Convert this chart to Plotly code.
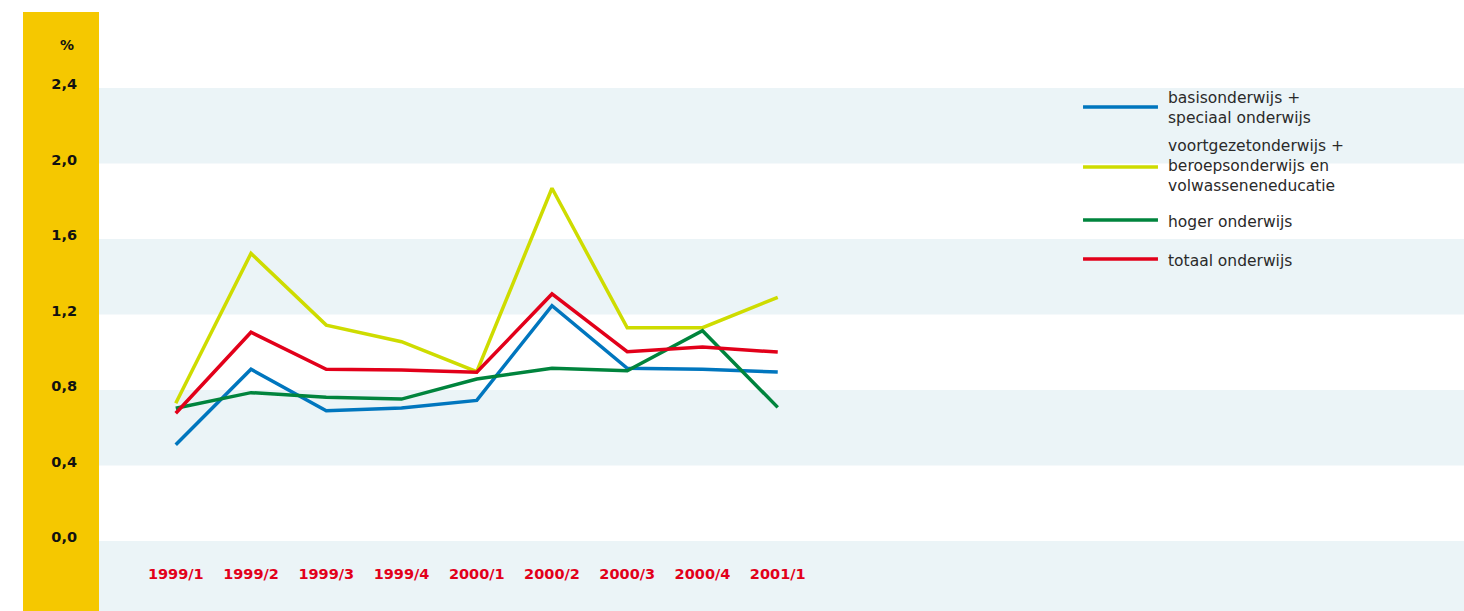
import plotly.graph_objects as go

periods = ["1999/1", "1999/2", "1999/3", "1999/4", "2000/1", "2000/2", "2000/3", "2000/4", "2001/1"]
basis = [0.51, 0.91, 0.69, 0.705, 0.745, 1.247, 0.915, 0.91, 0.895]
voortgezet = [0.73, 1.524, 1.144, 1.056, 0.897, 1.869, 1.13, 1.13, 1.291]
hoger = [0.703, 0.786, 0.761, 0.752, 0.858, 0.915, 0.902, 1.114, 0.708]
totaal = [0.677, 1.106, 0.91, 0.906, 0.894, 1.309, 1.003, 1.028, 1.001]

series_names = ["basisonderwijs +<br>speciaal onderwijs",
                "voortgezetonderwijs +<br>beroepsonderwijs en<br>volwasseneneducatie",
                "hoger onderwijs",
                "totaal onderwijs"]
series_values = [basis, voortgezet, hoger, totaal]
series_colors = ["#0076BE", "#CEDC00", "#00843D", "#E2001A"]

y_ticks = [0.0, 0.4, 0.8, 1.2, 1.6, 2.0, 2.4]
y_ticktext = ["0,0", "0,4", "0,8", "1,2", "1,6", "2,0", "2,4"]
band_ranges = [(-0.4, 0.0), (0.4, 0.8), (1.2, 1.6), (2.0, 2.4)]

fig = go.Figure()
for name, vals, col in zip(series_names, series_values, series_colors):
    fig.add_trace(go.Scatter(x=periods, y=vals, mode="lines", name=name,
                             line=dict(color=col, width=3.5), showlegend=False))

shapes = []
# yellow side band
shapes.append(dict(type="rect", xref="paper", yref="paper", x0=-76/1365, x1=0, y0=0, y1=1,
                   fillcolor="#F5C800", line=dict(width=0), layer="below"))
for b0, b1 in band_ranges:
    shapes.append(dict(type="rect", xref="paper", yref="y", x0=0, x1=1, y0=b0, y1=b1,
                       fillcolor="#EBF4F7", line=dict(width=0), layer="below"))

# manual legend
leg_line_y = [0.8414, 0.7412, 0.6528, 0.5876]
leg_text_y = [0.8405, 0.7437, 0.6493, 0.5843]
annotations = []
for name, col, ly, ty in zip(series_names, series_colors, leg_line_y, leg_text_y):
    shapes.append(dict(type="line", xref="paper", yref="paper", x0=0.7209, x1=0.7758, y0=ly, y1=ly,
                       line=dict(color=col, width=3.5)))
    annotations.append(dict(xref="paper", yref="paper", x=0.7817, y=ty, text=name, showarrow=False,
                            xanchor="left", yanchor="middle", align="left",
                            font=dict(family="DejaVu Sans", size=15.5, color="#2a2a2a")))
annotations.append(dict(xref="paper", yref="paper", x=-0.0165, y=(611-45)/599, text="<b>%</b>",
                        showarrow=False, xanchor="right", yanchor="middle",
                        font=dict(family="DejaVu Sans", size=14, color="#111111")))

fig.update_layout(
    width=1464, height=611,
    margin=dict(l=99, r=0, t=12, b=0),
    paper_bgcolor="white", plot_bgcolor="white",
    shapes=shapes, annotations=annotations,
    showlegend=False,
    xaxis=dict(type="category", range=[-1.02, 17.12], showgrid=False, zeroline=False, showline=False,
               ticks="", ticklabelposition="inside", ticklabelstandoff=26,
               tickfont=dict(family="DejaVu Sans", size=14.5, color="#E2001A", weight="bold")),
    yaxis=dict(range=[-0.371, 2.803], tickvals=y_ticks, ticktext=y_ticktext, showgrid=False,
               zeroline=False, showline=False, ticks="", ticklabelstandoff=21, ticklabelshift=-4,
               tickfont=dict(family="DejaVu Sans", size=14.5, color="#111111", weight="bold")),
)

fig.write_html("out.html", config={"displayModeBar": False},
               post_script="document.body.style.margin='0';document.body.style.padding='0';")
